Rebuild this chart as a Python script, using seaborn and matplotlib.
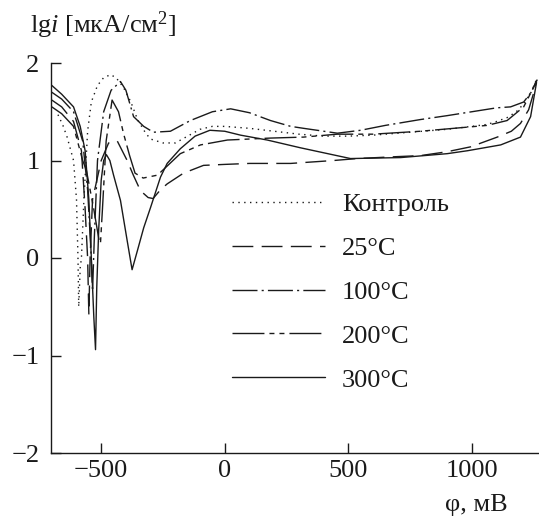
import numpy as np
import pandas as pd
import seaborn as sns
import matplotlib
matplotlib.use("Agg")
import matplotlib.pyplot as plt

# ---- data ----
labels = ["Контроль", "25°C", "100°C", "200°C", "300°C"]

x_ctrl = [-675, -655, -638, -625, -612, -600, -594, -591, -585, -580, -570, -555, -540, -515, -490, -462,
          -440, -410, -380, -353, -320, -300, -250, -200, -150, -100, -50, 0, 100, 200, 300, 400, 500,
          600, 700, 800, 900, 1000, 1062, 1100, 1143, 1180, 1210, 1240, 1262]
y_ctrl = [1.47, 1.36, 1.24, 1.12, 1.00, 0.60, 0.00, -0.50, -0.10, 0.00, 0.60, 1.30, 1.60, 1.77, 1.85, 1.88,
          1.85, 1.75, 1.60, 1.42, 1.28, 1.22, 1.18, 1.18, 1.25, 1.32, 1.35, 1.35, 1.33, 1.30, 1.27, 1.25, 1.25,
          1.26, 1.28, 1.30, 1.32, 1.35, 1.37, 1.40, 1.44, 1.50, 1.58, 1.70, 1.83]

x_25 = [-700, -660, -612, -580, -565, -555, -550, -545, -535, -500, -470, -435, -395, -370, -341, -310,
        -290, -260, -233, -167, -86, 0, 100, 267, 441, 536, 700, 792, 900, 995, 1103, 1160, 1197, 1230, 1250, 1262]
y_25 = [1.62, 1.55, 1.40, 1.10, 0.50, 0.00, -0.58, 0.00, 0.60, 1.00, 1.18, 1.20, 1.00, 0.85, 0.69, 0.62,
        0.61, 0.70, 0.76, 0.87, 0.95, 0.96, 0.97, 0.97, 1.00, 1.02, 1.04, 1.05, 1.09, 1.14, 1.24, 1.30, 1.38, 1.52, 1.69, 1.82]

x_100 = [-700, -660, -612, -575, -555, -542, -535, -528, -515, -490, -460, -422, -400, -369, -328, -289,
         -220, -139, -50, 24, 100, 185, 267, 319, 456, 550, 650, 792, 900, 1000, 1100, 1157, 1210, 1240, 1265]
y_100 = [1.70, 1.63, 1.50, 1.20, 0.70, 0.10, -0.34, 0.20, 1.00, 1.50, 1.72, 1.81, 1.72, 1.45, 1.35, 1.29,
         1.30, 1.41, 1.50, 1.53, 1.49, 1.41, 1.35, 1.33, 1.28, 1.31, 1.36, 1.42, 1.46, 1.50, 1.54, 1.55, 1.60, 1.70, 1.83]

x_200 = [-700, -660, -612, -575, -560, -530, -510, -503, -495, -480, -456, -430, -410, -385, -363, -330,
         -272, -180, -98, 11, 185, 319, 456, 600, 792, 1062, 1143, 1210, 1250, 1262]
y_200 = [1.55, 1.48, 1.35, 1.00, 0.90, 0.50, 0.20, 0.15, 0.50, 1.20, 1.62, 1.50, 1.28, 1.05, 0.87, 0.82,
         0.85, 1.07, 1.16, 1.21, 1.23, 1.24, 1.27, 1.27, 1.30, 1.36, 1.41, 1.55, 1.75, 1.82]

x_300 = [-700, -660, -612, -585, -565, -550, -540, -530, -523, -518, -510, -500, -490, -479, -465, -450,
         -422, -395, -375, -353, -328, -300, -260, -233, -180, -120, -60, 0, 64, 172, 307, 509, 712, 900,
         982, 1117, 1197, 1238, 1262]
y_300 = [1.77, 1.68, 1.55, 1.35, 1.10, 0.60, 0.00, -0.60, -0.94, -0.30, 0.30, 0.80, 1.00, 1.06, 1.00, 0.85,
         0.59, 0.18, -0.12, 0.08, 0.31, 0.52, 0.83, 0.97, 1.12, 1.25, 1.31, 1.30, 1.26, 1.21, 1.13, 1.02, 1.03, 1.07,
         1.10, 1.16, 1.24, 1.45, 1.80]

x_ticks = [-500, 0, 500, 1000]
y_ticks = [-2, -1, 0, 1, 2]

series = [(x_ctrl, y_ctrl), (x_25, y_25), (x_100, y_100), (x_200, y_200), (x_300, y_300)]
styles = [(0, (1.0, 3.2)),
          (0, (15, 6)),
          (0, (18, 3, 1.5, 3)),
          (0, (23, 3.6, 3.6, 3.6, 3.6, 3.6)),
          "-"]

# ---- figure ----
sns.set_style("ticks")
plt.rcParams["font.family"] = ["Liberation Serif", "DejaVu Serif"]
plt.rcParams["mathtext.fontset"] = "custom"
plt.rcParams["mathtext.rm"] = "Liberation Serif"
plt.rcParams["mathtext.it"] = "Liberation Serif:italic"

FS = 19
W, H = 539, 521
fig = plt.figure(figsize=(W / 100, H / 100), dpi=100)
L, R, B, T = 51.3, 539, 453, 63
ax = fig.add_axes([L / W, 1 - B / H, (R - L) / W, (B - T) / H])

ink = "#1a1a1a"
for (xs, ys), lab, ls in zip(series, labels, styles):
    df = pd.DataFrame({"x": xs, "y": ys})
    sns.lineplot(data=df, x="x", y="y", ax=ax, color=ink, lw=1.0, linestyle=ls,
                 estimator=None, sort=False, label=lab)

ax.set_xlim(-702, 1272)
ax.set_ylim(-2, 2)
ax.set_xticks(x_ticks)
ax.set_xticklabels([str(v).replace("-", "\u2212") for v in x_ticks])
ax.set_yticks(y_ticks)
ax.set_yticklabels([str(v).replace("-", "\u2212") for v in y_ticks])
ax.tick_params(direction="in", length=7, width=1, colors=ink, labelsize=FS)
ax.tick_params(axis="x", pad=5)
ax.tick_params(axis="y", pad=8.5)
for s in ["top", "right"]:
    ax.spines[s].set_visible(False)
for s in ["left", "bottom"]:
    ax.spines[s].set_color(ink)
    ax.spines[s].set_linewidth(1)
ax.set_xlabel("")
ax.set_ylabel("")

leg = ax.legend(loc="upper left", bbox_to_anchor=(0.370, 0.667), frameon=False,
                fontsize=FS, handlelength=3.52, handletextpad=0.65, labelspacing=0.77,
                borderpad=0, borderaxespad=0)
for t in leg.get_texts():
    t.set_color(ink)

fig.text(30 / W, 1 - 25 / H, r"lg$i$ [мкА/см$^{2}$]", fontsize=FS, color=ink,
         ha="left", va="center")
fig.text(508 / W, 1 - 505 / H, "φ, мВ", fontsize=FS, color=ink, ha="right", va="center")

fig.savefig("out.png", dpi=100)
